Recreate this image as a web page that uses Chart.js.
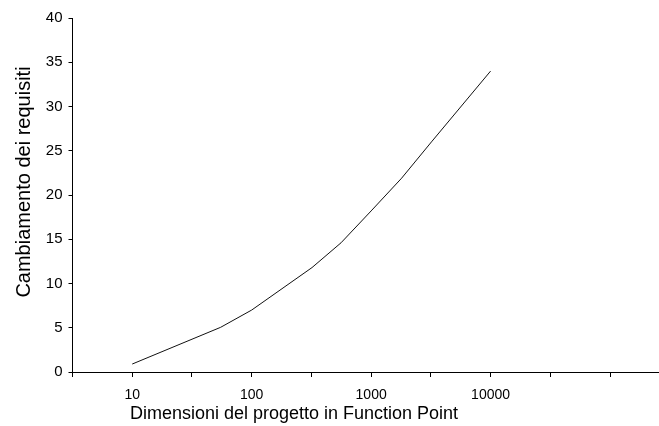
<!DOCTYPE html>
<html>
<head>
<meta charset="utf-8">
<script src="https://cdn.jsdelivr.net/npm/chart.js@4"></script>
<style>
  html, body { margin: 0; padding: 0; background: #fff; }
  #wrap { width: 659px; height: 426px; position: relative; }
</style>
</head>
<body>
<div id="wrap"><canvas id="c" width="659" height="426"></canvas></div>
<script>
// Project size (function points) and requirements change
const sizes = [10, 55, 100, 320, 560, 1000, 1800, 3200, 10000];
const changes = [0.9, 5.05, 7.0, 11.8, 14.6, 18.2, 21.9, 26.0, 34.0];
const labeledTicks = [10, 100, 1000, 10000];
const yTicks = [0, 5, 10, 15, 20, 25, 30, 35, 40];
const xTitle = 'Dimensioni del progetto in Function Point';
const yTitle = 'Cambiamento dei requisiti';

const FONT = 'Liberation Sans, Arial, sans-serif';

const titlesPlugin = {
  id: 'axisTitles',
  afterDraw(chart) {
    const ctx = chart.ctx;
    ctx.save();
    ctx.fillStyle = '#000';
    ctx.textAlign = 'center';
    ctx.textBaseline = 'middle';
    ctx.font = '18px ' + FONT;
    ctx.fillText(xTitle, 294, 414);
    ctx.translate(24, 182);
    ctx.rotate(-Math.PI / 2);
    ctx.font = '20px ' + FONT;
    ctx.fillText(yTitle, 0, 0);
    ctx.restore();
  }
};

new Chart(document.getElementById('c'), {
  type: 'line',
  data: {
    datasets: [{
      data: sizes.map((s, i) => ({ x: s, y: changes[i] })),
      borderColor: '#111',
      borderWidth: 1,
      pointRadius: 0,
      tension: 0,
      fill: false
    }]
  },
  options: {
    responsive: false,
    animation: false,
    devicePixelRatio: 1,
    layout: { padding: { top: 18, right: 0, bottom: 0, left: 0 } },
    plugins: { legend: { display: false }, tooltip: { enabled: false } },
    scales: {
      x: {
        type: 'logarithmic',
        min: Math.pow(10, 0.5),
        max: Math.pow(10, 5.41),
        afterBuildTicks(scale) {
          const t = [];
          for (let k = 1; k <= 10; k++) t.push({ value: Math.pow(10, k / 2) });
          scale.ticks = t;
        },
        afterFit(scale) { scale.height = 54; },
        border: { display: true, color: '#000', width: 1 },
        grid: { display: true, drawOnChartArea: false, drawTicks: true, tickLength: 5, color: '#000', lineWidth: 1 },
        ticks: {
          autoSkip: false,
          maxRotation: 0,
          padding: 10,
          color: '#000',
          font: { family: FONT, size: 14 },
          callback(v) {
            const m = labeledTicks.find(l => Math.abs(l - v) / l < 1e-6);
            return m ? String(m) : '';
          }
        }
      },
      y: {
        type: 'linear',
        min: 0,
        max: 40,
        afterBuildTicks(scale) { scale.ticks = yTicks.map(v => ({ value: v })); },
        afterFit(scale) { scale.width = 72.5; },
        border: { display: true, color: '#000', width: 1 },
        grid: { display: true, drawOnChartArea: false, drawTicks: true, tickLength: 4, color: '#000', lineWidth: 1 },
        ticks: {
          padding: 6,
          color: '#000',
          font: { family: FONT, size: 15 }
        }
      }
    }
  },
  plugins: [titlesPlugin]
});
</script>
</body>
</html>
